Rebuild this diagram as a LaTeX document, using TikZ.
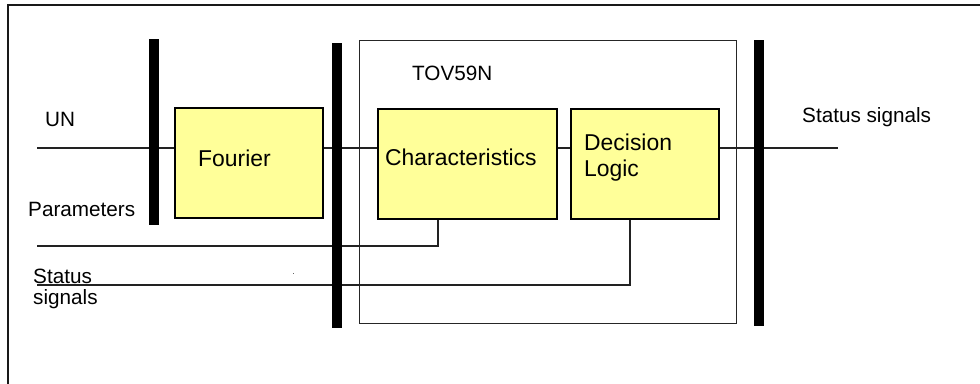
\documentclass[tikz,border=0pt]{standalone}
\usepackage{fontspec}
\setmainfont{Liberation Sans}
\definecolor{boxyellow}{HTML}{FFFF99}
\definecolor{wire}{HTML}{222222}
\begin{document}
\begin{tikzpicture}[x=1pt,y=-1pt,
  blk/.style={draw=black,line width=1.6pt,fill=boxyellow,inner sep=0pt,anchor=north west},
  busbar/.style={fill=black,draw=none,inner sep=0pt,anchor=north west,minimum width=10pt},
  wireline/.style={draw=wire,line width=1.2pt},
  boxtext/.style={font=\fontsize{22.9}{25.5}\selectfont,anchor=base west,inner sep=0pt},
  labeltext/.style={font=\fontsize{20.7}{21}\selectfont,anchor=base west,inner sep=0pt}]
\useasboundingbox (0,0) rectangle (980,383);
% outer frame (top and left visible)
\draw[line width=2pt,black!90] (7.5,400) -- (7.5,4.5) -- (990,4.5);
% TOV box
\node[draw=black!85,line width=1.3pt,inner sep=0pt,anchor=north west,minimum width=377pt,minimum height=283pt] (tov) at (359,40) {};
% bars
\node[busbar,minimum height=186pt] (bar1) at (149,39) {};
\node[busbar,minimum height=285pt] (bar2) at (332,43) {};
\node[busbar,minimum height=286pt] (bar3) at (754,40) {};
% blocks
\node[blk,minimum width=148pt,minimum height=110pt] (fourier) at (174,107) {};
\node[blk,minimum width=179pt,minimum height=110pt] (char) at (377,108) {};
\node[blk,minimum width=148pt,minimum height=110pt] (dec) at (570,108) {};
% texts in blocks
\node[boxtext] (tf) at (198,166) {Fourier};
\node[boxtext] (tc) at (385,165.7) {Characteristics};
\node[boxtext] (td1) at (584,150.7) {Decision};
\node[boxtext] (td2) at (584,176) {Logic};
% labels
\node[labeltext] (lun) at (45,126.5) {UN};
\node[labeltext] (lpar) at (28,216.5) {Parameters};
\node[labeltext] (lst1) at (33,283.5) {Status};
\node[labeltext] (lst2) at (33,304.5) {signals};
\node[labeltext] (ltov) at (412,80.5) {TOV59N};
\node[labeltext] (lout) at (802,122.7) {Status signals};
% connector end points
\coordinate (in) at (37,148);
\coordinate (out) at (838,148);
\coordinate (parin) at (37,246);
\coordinate (stin) at (37,285);
\coordinate (charbot) at (438,246);
\coordinate (decbot) at (630,285);
% connectors
\draw[wireline] (in) -- (in -| fourier.west);
\draw[wireline] (fourier.east |- in) -- (in -| char.west);
\draw[wireline] (char.east |- in) -- (in -| dec.west);
\draw[wireline] (dec.east |- in) -- (out);
\draw[wireline] (parin) -- (charbot) -- (charbot |- char.south);
\draw[wireline] (stin) -- (decbot) -- (decbot |- dec.south);
% redraw bars on top of wires
\fill[black] (bar1.north west) rectangle (bar1.south east);
\fill[black] (bar2.north west) rectangle (bar2.south east);
\fill[black] (bar3.north west) rectangle (bar3.south east);
% stray dot
\fill[black!60] (292.5,272.5) rectangle (294,274);
\end{tikzpicture}
\end{document}
